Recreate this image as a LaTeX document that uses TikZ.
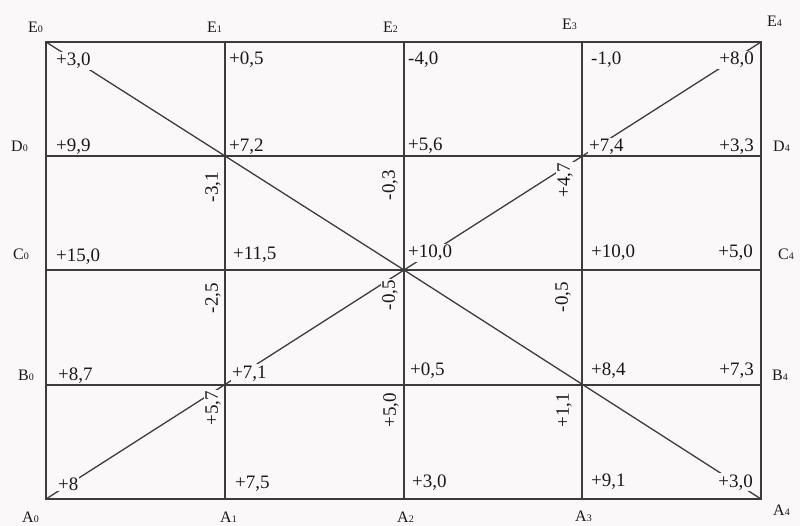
\documentclass[tikz,border=0pt]{standalone}
\usepackage{fontspec}
\setmainfont{Liberation Serif}
\definecolor{bg}{RGB}{251,248,250}
\definecolor{ink}{RGB}{25,25,25}
\definecolor{lin}{RGB}{60,60,60}
\newcommand\ptlab[2]{#1{\fontsize{10}{10}\selectfont #2}}
\begin{document}
\begin{tikzpicture}[x=1pt,y=-1pt,
  val/.style={font=\fontsize{19}{19}\selectfont, text=ink, fill=bg, inner sep=1pt, anchor=base west},
  vale/.style={val, anchor=base east},
  rval/.style={font=\fontsize{19}{19}\selectfont, text=ink, fill=bg, inner sep=1pt, rotate=90},
  ptl/.style={font=\fontsize{16}{16}\selectfont, text=ink, inner sep=0pt, anchor=base west},
  gridline/.style={draw=lin, line width=2pt},
  border/.style={draw=lin, line width=2.4pt},
  diag/.style={draw=lin, line width=1.3pt}]
\fill[bg] (0,0) rectangle (800,526);
\useasboundingbox (0,0) rectangle (800,526);
\foreach \r/\y in {E/42,D/156,C/270,B/385,A/499}{
  \foreach \c/\x in {0/46,1/225,2/404,3/582,4/761}{
    \coordinate (\r\c) at (\x,\y);
  }
}
% diagonals
\draw[diag] (E0) -- (C2) -- (A4);
\draw[diag] (A0) -- (C2) -- (E4);
% cell values
\node[val] (e0) at (55,66) {+3,0};
\node[val] (e1) at (228,65) {+0,5};
\node[val] (e2) at (407,65) {-4,0};
\node[val] (e3) at (590,65) {-1,0};
\node[vale] (e4) at (755,65) {+8,0};
\node[val] (d0) at (55,152) {+9,9};
\node[val] (d1) at (228,152) {+7,2};
\node[val] (d2) at (407,151) {+5,6};
\node[val] (d3) at (588,152) {+7,4};
\node[vale] (d4) at (755,152) {+3,3};
\node[val] (c0) at (55,262) {+15,0};
\node[val] (c1) at (232,260) {+11,5};
\node[val] (c2) at (407,258) {+10,0};
\node[val] (c3) at (590,258) {+10,0};
\node[vale] (c4) at (754,258) {+5,0};
\node[val] (b0) at (57,380) {+8,7};
\node[val] (b1) at (231,378) {+7,1};
\node[val] (b2) at (409,375) {+0,5};
\node[val] (b3) at (590,375) {+8,4};
\node[vale] (b4) at (755,375) {+7,3};
\node[val] (a0) at (57,490) {+8};
\node[val] (a1) at (234,488) {+7,5};
\node[val] (a2) at (411,487) {+3,0};
\node[val] (a3) at (590,486) {+9,1};
\node[vale] (a4) at (754,487) {+3,0};
% rotated values
\node[rval] (r1) at (213,187) {-3,1};
\node[rval] (r2) at (390,185) {-0,3};
\node[rval] (r3) at (565,180) {+4,7};
\node[rval] (r4) at (213,298) {-2,5};
\node[rval] (r5) at (390,295) {-0,5};
\node[rval] (r6) at (563,297) {-0,5};
\node[rval] (r7) at (213,408) {+5,7};
\node[rval] (r8) at (391,410) {+5,0};
\node[rval] (r9) at (564,410) {+1,1};
% grid (on top of label fills)
\draw[gridline] (D0) -- (D4);
\draw[gridline] (C0) -- (C4);
\draw[gridline] (B0) -- (B4);
\draw[gridline] (E1) -- (A1);
\draw[gridline] (E2) -- (A2);
\draw[gridline] (E3) -- (A3);
\draw[border] (E0) rectangle (A4);
% point labels
\node[ptl] (lE0) at (28,33) {\ptlab{E}{0}};
\node[ptl] (lE1) at (207,33) {\ptlab{E}{1}};
\node[ptl] (lE2) at (383,33) {\ptlab{E}{2}};
\node[ptl] (lE3) at (562,30) {\ptlab{E}{3}};
\node[ptl] (lE4) at (767,27) {\ptlab{E}{4}};
\node[ptl] (lD0) at (11,152) {\ptlab{D}{0}};
\node[ptl] (lD4) at (773,152) {\ptlab{D}{4}};
\node[ptl] (lC0) at (13,260) {\ptlab{C}{0}};
\node[ptl] (lC4) at (778,260) {\ptlab{C}{4}};
\node[ptl] (lB0) at (18,381) {\ptlab{B}{0}};
\node[ptl] (lB4) at (772,381) {\ptlab{B}{4}};
\node[ptl] (lA0) at (22,522) {\ptlab{A}{0}};
\node[ptl] (lA1) at (220,522) {\ptlab{A}{1}};
\node[ptl] (lA2) at (397,522) {\ptlab{A}{2}};
\node[ptl] (lA3) at (575,521) {\ptlab{A}{3}};
\node[ptl] (lA4) at (773,515) {\ptlab{A}{4}};
\end{tikzpicture}
\end{document}
